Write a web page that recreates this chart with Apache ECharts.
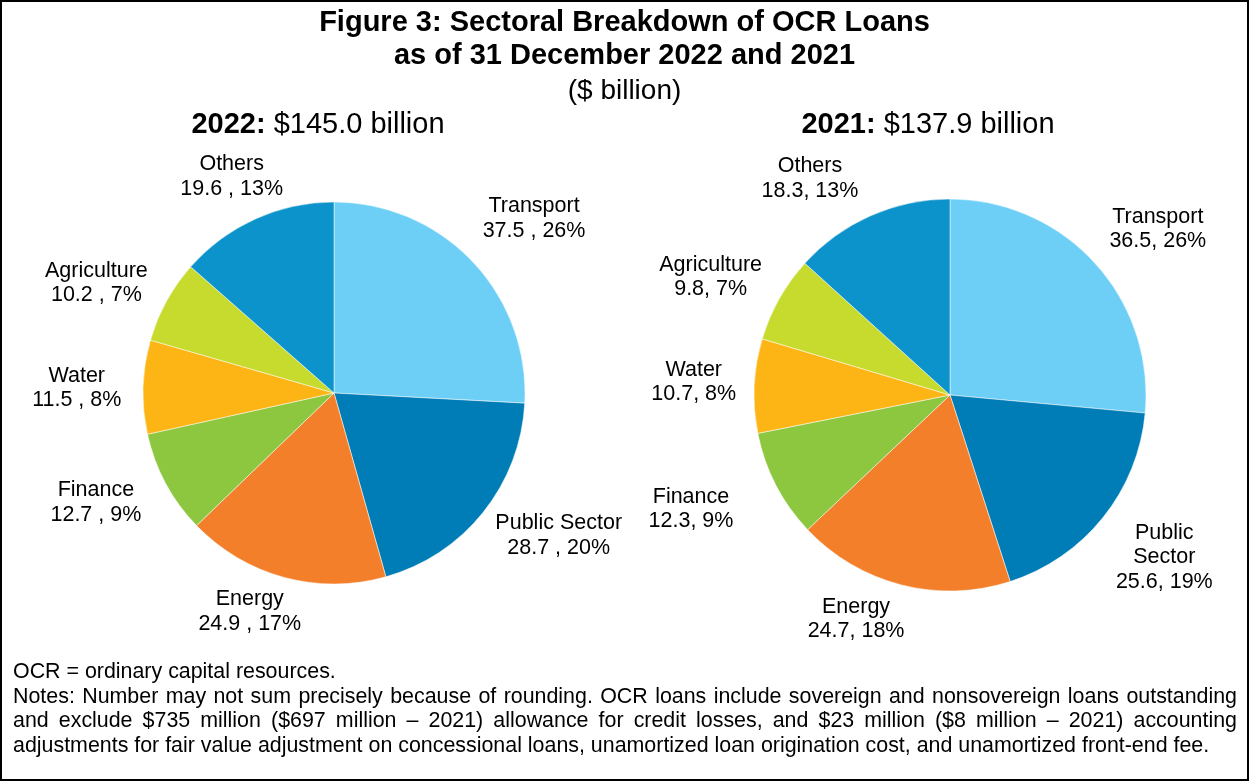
<!DOCTYPE html>
<html>
<head>
<meta charset="utf-8">
<script src="https://cdn.jsdelivr.net/npm/echarts@6/dist/echarts.min.js"></script>
<style>
  html, body { margin: 0; padding: 0; background: #fff; }
  #frame { position: relative; width: 1249px; height: 781px; box-sizing: border-box; border: 2px solid #000; }
  #chart { position: absolute; left: 0; top: 0; width: 1245px; height: 777px; }
  #notes { position: absolute; left: 11px; top: 657px; width: 1224px; font-family: "Liberation Sans", Arial, sans-serif; font-size: 21.4px; line-height: 24.5px; color: #000; }
  #notes div { white-space: nowrap; }
  #notes .j { text-align: justify; text-align-last: justify; }
</style>
</head>
<body>
<div id="frame">
  <div id="chart"></div>
  <div id="notes">
    <div>OCR = ordinary capital resources.</div>
    <div class="j">Notes: Number may not sum precisely because of rounding. OCR loans include sovereign and nonsovereign loans outstanding</div>
    <div class="j">and exclude $735 million ($697 million – 2021) allowance for credit losses, and $23 million ($8 million – 2021) accounting</div>
    <div>adjustments for fair value adjustment on concessional loans, unamortized loan origination cost, and unamortized front-end fee.</div>
  </div>
</div>
<script>
// Sector order runs clockwise from 12 o'clock
const sectors = ['Transport', 'Public Sector', 'Energy', 'Finance', 'Water', 'Agriculture', 'Others'];
const labels2021 = ['Transport', 'Public\nSector', 'Energy', 'Finance', 'Water', 'Agriculture', 'Others'];
const colors = ['#6ECFF6', '#007DB7', '#F47F2A', '#8DC63F', '#FDB515', '#C7DA2E', '#0D93CB'];

// Loans outstanding, $ billion
const values2022 = [37.5, 28.7, 24.9, 12.7, 11.5, 10.2, 19.6];
const values2021 = [36.5, 25.6, 24.7, 12.3, 10.7, 9.8, 18.3];
// Shares as published (rounded)
const pct2022 = [26, 20, 17, 9, 8, 7, 13];
const pct2021 = [26, 19, 18, 9, 8, 7, 13];

// Hand-tuned label nudges (px) applied after the automatic outside placement
const nudge2022 = [[12, 4], [14, -26], [-21, -15], [-12, -12], [-7, 3], [-8, 16], [0, 10]];
const nudge2021 = [[14, 11], [3, -7], [-33, -14], [-29, -5], [-3, -1], [-7, 13], [-38, 14]];

const FONT = '"Liberation Sans", Arial, sans-serif';

// Place each label just outside its slice, centred on the slice's mid-angle
function outsideLabels(cx, cy, r, values, gap, nudge) {
  const total = values.reduce((a, b) => a + b, 0);
  let acc = 0;
  const mids = values.map(v => { const m = (acc + v / 2) / total * 2 * Math.PI; acc += v; return m; });
  return function (params) {
    const i = params.dataIndex;
    const a = mids[i];
    const s = Math.sin(a), c = Math.cos(a);
    const w = params.labelRect.width, h = params.labelRect.height;
    const d = r + gap + Math.abs(s) * w / 2 + Math.abs(c) * h / 2;
    return { x: cx + d * s + nudge[i][0], y: cy - d * c + nudge[i][1], align: 'center', verticalAlign: 'middle' };
  };
}

function pieSeries(values, names, pcts, sep, cx, cy, r, nudge) {
  return {
    type: 'pie',
    center: [cx, cy],
    radius: r,
    startAngle: 90,
    clockwise: true,
    avoidLabelOverlap: false,
    animation: false,
    silent: true,
    itemStyle: { borderColor: '#ffffff', borderWidth: 0.5 },
    label: {
      show: true,
      position: 'outside',
      fontFamily: FONT,
      fontSize: 21.5,
      lineHeight: 24.5,
      color: '#000',
      align: 'center',
      formatter: p => names[p.dataIndex] + '\n' + values[p.dataIndex].toFixed(1) + sep + pcts[p.dataIndex] + '%'
    },
    labelLine: { show: false },
    labelLayout: outsideLabels(cx, cy, r, values, 14, nudge),
    data: values.map((v, i) => ({ name: sectors[i], value: v, itemStyle: { color: colors[i] } }))
  };
}

const chart = echarts.init(document.getElementById('chart'), null, { renderer: 'canvas' });
chart.setOption({
  backgroundColor: '#fff',
  graphic: [
    { type: 'text', left: 'center', top: 6, style: { text: 'Figure 3: Sectoral Breakdown of OCR Loans', font: 'bold 29px ' + FONT, fill: '#000' } },
    { type: 'text', left: 'center', top: 39, style: { text: 'as of 31 December 2022 and 2021', font: 'bold 29px ' + FONT, fill: '#000' } },
    { type: 'text', left: 'center', top: 75, style: { text: '($ billion)', font: '28px ' + FONT, fill: '#000' } },
    { type: 'text', x: 316, y: 108, style: { text: '{b|2022:} $145.0 billion', align: 'center', font: '29px ' + FONT, fill: '#000', rich: { b: { font: 'bold 29px ' + FONT, fill: '#000' } } } },
    { type: 'text', x: 926, y: 108, style: { text: '{b|2021:} $137.9 billion', align: 'center', font: '29px ' + FONT, fill: '#000', rich: { b: { font: 'bold 29px ' + FONT, fill: '#000' } } } }
  ],
  series: [
    pieSeries(values2022, sectors, pct2022, ' , ', 332, 391, 191, nudge2022),
    pieSeries(values2021, labels2021, pct2021, ', ', 948, 393, 196, nudge2021)
  ]
});
</script>
</body>
</html>
